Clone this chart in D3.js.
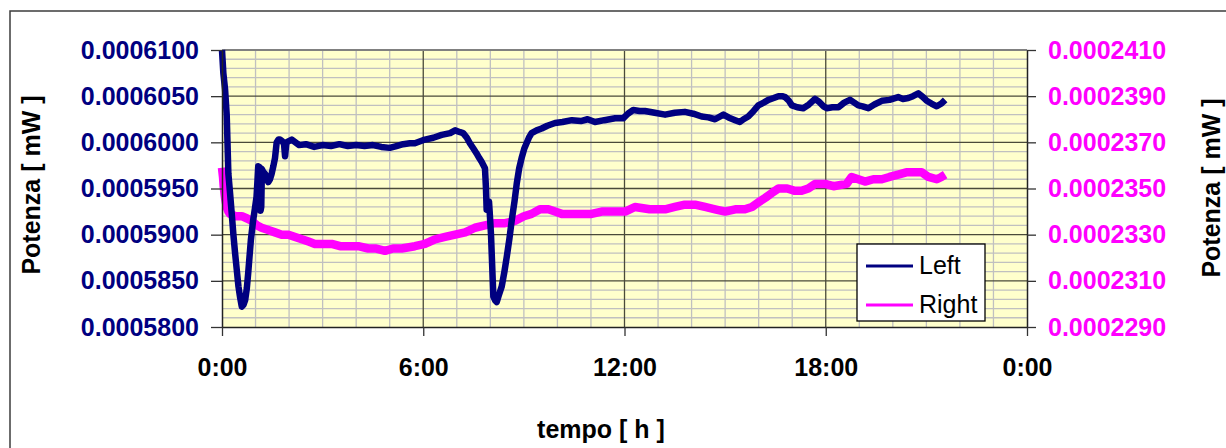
<!DOCTYPE html>
<html>
<head>
<meta charset="utf-8">
<script src="https://cdn.jsdelivr.net/npm/d3@7/dist/d3.min.js"></script>
<style>
  html, body { margin: 0; padding: 0; background: #ffffff; }
  svg { display: block; font-family: "Liberation Sans", Arial, sans-serif; }
</style>
</head>
<body>
<svg id="chart" width="1226" height="448"></svg>
<script>
// Elapsed time in hours and power readings (mW) for the two channels.
const leftTime = [
  0.00, 0.04, 0.09, 0.14, 0.19, 0.24, 0.29, 0.34, 0.39, 0.44, 0.49, 0.54, 0.59, 0.64, 0.69, 0.74,
  0.78, 0.82, 0.86, 0.93, 0.98, 1.03, 1.06, 1.08, 1.13, 1.15, 1.17, 1.19, 1.23, 1.28, 1.33, 1.38,
  1.43, 1.48, 1.53, 1.58, 1.63, 1.68, 1.73, 1.80, 1.85, 1.88, 1.92, 2.08, 2.30, 2.50, 2.75, 3.00,
  3.25, 3.50, 3.75, 4.00, 4.25, 4.50, 4.75, 5.00, 5.20, 5.40, 5.60, 5.75, 6.05, 6.30, 6.55, 6.80,
  6.95, 7.10, 7.19, 7.30, 7.39, 7.50, 7.59, 7.67, 7.74, 7.84, 7.87, 7.89, 7.93, 7.96, 7.98, 8.02,
  8.09, 8.14, 8.19, 8.25, 8.34, 8.42, 8.49, 8.57, 8.64, 8.72, 8.79, 8.86, 8.94, 9.01, 9.08, 9.15,
  9.23, 9.38, 9.53, 9.70, 9.93, 10.15, 10.43, 10.70, 10.90, 11.12, 11.40, 11.72, 11.96, 12.10,
  12.26, 12.45, 12.61, 12.90, 13.21, 13.50, 13.80, 14.05, 14.30, 14.50, 14.70, 14.95, 15.10,
  15.30, 15.44, 15.55, 15.69, 15.85, 15.99, 16.15, 16.29, 16.45, 16.59, 16.70, 16.79, 16.90,
  16.99, 17.15, 17.33, 17.50, 17.68, 17.80, 17.93, 18.03, 18.20, 18.38, 18.55, 18.72, 18.85,
  18.97, 19.10, 19.27, 19.45, 19.67, 19.90, 20.16, 20.30, 20.46, 20.60, 20.76, 20.90, 21.01,
  21.15, 21.31, 21.45, 21.56
];
const leftPower = [
  0.0006100, 0.0006075, 0.0006058, 0.0006030, 0.0005966, 0.0005945, 0.0005923, 0.0005900, 0.0005880, 0.0005862, 0.0005844, 0.0005832, 0.0005822, 0.0005824, 0.0005829, 0.0005842,
  0.0005858, 0.0005876, 0.0005894, 0.0005916, 0.0005928, 0.0005941, 0.0005960, 0.0005974, 0.0005973, 0.0005926, 0.0005930, 0.0005971, 0.0005968, 0.0005966, 0.0005961, 0.0005957,
  0.0005960, 0.0005966, 0.0005974, 0.0005983, 0.0006000, 0.0006003, 0.0006003, 0.0006001, 0.0005998, 0.0005985, 0.0006000, 0.0006003, 0.0005997, 0.0005998, 0.0005995, 0.0005997,
  0.0005996, 0.0005998, 0.0005996, 0.0005997, 0.0005996, 0.0005997, 0.0005995, 0.0005994, 0.0005996, 0.0005998, 0.0005999, 0.0005999, 0.0006003, 0.0006005, 0.0006008, 0.0006010,
  0.0006013, 0.0006011, 0.0006010, 0.0006005, 0.0005999, 0.0005993, 0.0005988, 0.0005983, 0.0005979, 0.0005972, 0.0005950, 0.0005927, 0.0005928, 0.0005936, 0.0005925, 0.0005900,
  0.0005833, 0.0005829, 0.0005827, 0.0005834, 0.0005844, 0.0005860, 0.0005876, 0.0005896, 0.0005916, 0.0005936, 0.0005956, 0.0005972, 0.0005984, 0.0005993, 0.0005999, 0.0006005,
  0.0006010, 0.0006013, 0.0006015, 0.0006018, 0.0006021, 0.0006022, 0.0006024, 0.0006023, 0.0006025, 0.0006022, 0.0006024, 0.0006026, 0.0006026, 0.0006031,
  0.0006035, 0.0006034, 0.0006034, 0.0006032, 0.0006030, 0.0006032, 0.0006033, 0.0006031, 0.0006028, 0.0006027, 0.0006025, 0.0006030, 0.0006027,
  0.0006024, 0.0006022, 0.0006025, 0.0006028, 0.0006034, 0.0006040, 0.0006043, 0.0006046, 0.0006048, 0.0006050, 0.0006050, 0.0006049, 0.0006045,
  0.0006040, 0.0006038, 0.0006037, 0.0006041, 0.0006047, 0.0006044, 0.0006039, 0.0006037, 0.0006038, 0.0006038, 0.0006043, 0.0006046, 0.0006043,
  0.0006040, 0.0006039, 0.0006037, 0.0006041, 0.0006045, 0.0006046, 0.0006049, 0.0006047, 0.0006048, 0.0006050, 0.0006053, 0.0006049, 0.0006045,
  0.0006042, 0.0006039, 0.0006042, 0.0006046
];

const rightTime = [
  0.00, 0.03, 0.05, 0.09, 0.14, 0.19, 0.24, 0.40, 0.59, 0.75, 0.88, 1.05, 1.18, 1.38, 1.58, 1.78,
  1.98, 2.18, 2.38, 2.58, 2.77, 3.02, 3.27, 3.52, 3.77, 4.06, 4.36, 4.60, 4.86, 5.10, 5.36, 5.75,
  6.05, 6.35, 6.65, 6.95, 7.25, 7.54, 7.84, 8.14, 8.44, 8.74, 9.00, 9.23, 9.48, 9.73, 9.93, 10.13,
  10.43, 10.72, 11.02, 11.32, 11.72, 12.02, 12.31, 12.75, 13.21, 13.50, 13.80, 14.10, 14.40, 14.70,
  15.00, 15.30, 15.59, 15.80, 15.99, 16.20, 16.39, 16.59, 16.85, 17.08, 17.28, 17.48, 17.68, 17.98,
  18.23, 18.62, 18.77, 18.97, 19.17, 19.42, 19.67, 19.90, 20.16, 20.40, 20.66, 20.86, 21.06, 21.31,
  21.45, 21.56
];
const rightPower = [
  0.0002359, 0.0002355, 0.0002351, 0.0002346, 0.0002342, 0.0002340, 0.0002339, 0.0002338, 0.0002338, 0.0002337, 0.0002336, 0.0002334, 0.0002333, 0.0002332, 0.0002331, 0.0002330,
  0.0002330, 0.0002329, 0.0002328, 0.0002327, 0.0002326, 0.0002326, 0.0002326, 0.0002325, 0.0002325, 0.0002325, 0.0002324, 0.0002324, 0.0002323, 0.0002324, 0.0002324, 0.0002325,
  0.0002326, 0.0002328, 0.0002329, 0.0002330, 0.0002331, 0.0002333, 0.0002334, 0.0002335, 0.0002335, 0.0002336, 0.0002338, 0.0002339, 0.0002341, 0.0002341, 0.0002340, 0.0002339,
  0.0002339, 0.0002339, 0.0002339, 0.0002340, 0.0002340, 0.0002340, 0.0002342, 0.0002341, 0.0002341, 0.0002342, 0.0002343, 0.0002343, 0.0002342, 0.0002341,
  0.0002340, 0.0002341, 0.0002341, 0.0002342, 0.0002344, 0.0002346, 0.0002348, 0.0002350, 0.0002350, 0.0002349, 0.0002349, 0.0002350, 0.0002352, 0.0002352,
  0.0002351, 0.0002352, 0.0002355, 0.0002354, 0.0002353, 0.0002354, 0.0002354, 0.0002355, 0.0002356, 0.0002357, 0.0002357, 0.0002357, 0.0002355, 0.0002354,
  0.0002355, 0.0002356
];

// Axis ticks and labels
const timeTicks = [0, 6, 12, 18, 24];
const timeTickLabels = ["0:00", "6:00", "12:00", "18:00", "0:00"];
const leftTicks = [0.00058, 0.000585, 0.00059, 0.000595, 0.0006, 0.000605, 0.00061];
const rightTicks = [0.000229, 0.000231, 0.000233, 0.000235, 0.000237, 0.000239, 0.000241];
const seriesNames = ["Left", "Right"];
const seriesColors = ["#000080", "#ff00ff"];

const svg = d3.select("#chart");
const plot = { left: 222, right: 1027, top: 50, bottom: 327 };

const x = d3.scaleLinear().domain([0, 24]).range([plot.left, plot.right]);
const yL = d3.scaleLinear().domain([0.00058, 0.00061]).range([plot.bottom, plot.top]);
const yR = d3.scaleLinear().domain([0.000229, 0.000241]).range([plot.bottom, plot.top]);

// Outer chart frame
svg.append("rect")
  .attr("x", 10).attr("y", 11).attr("width", 1240).attr("height", 460)
  .attr("fill", "none").attr("stroke", "#3c3c3c").attr("stroke-width", 1.5);

// Plot background
svg.append("rect")
  .attr("x", plot.left).attr("y", plot.top)
  .attr("width", plot.right - plot.left).attr("height", plot.bottom - plot.top)
  .attr("fill", "#ffffcc");

// Minor gridlines: every hour, every 0.000001 mW on the left scale
const minorX = d3.range(1, 24).filter(h => h % 6 !== 0);
const minorY = d3.range(1, 30).filter(i => i % 5 !== 0).map(i => 0.00058 + i * 0.000001);
const grid = svg.append("g");
grid.selectAll(".mx").data(minorX).join("line")
  .attr("x1", d => x(d)).attr("x2", d => x(d))
  .attr("y1", plot.top).attr("y2", plot.bottom)
  .attr("stroke", "#c0c0c0").attr("stroke-width", 1.3);
grid.selectAll(".my").data(minorY).join("line")
  .attr("x1", plot.left).attr("x2", plot.right)
  .attr("y1", d => yL(d)).attr("y2", d => yL(d))
  .attr("stroke", "#c0c0c0").attr("stroke-width", 1.3);

// Major gridlines
grid.selectAll(".Mx").data(timeTicks.slice(1, -1)).join("line")
  .attr("x1", d => x(d)).attr("x2", d => x(d))
  .attr("y1", plot.top).attr("y2", plot.bottom)
  .attr("stroke", "#4a4a3a").attr("stroke-width", 1.3);
grid.selectAll(".My").data(leftTicks.slice(1, -1)).join("line")
  .attr("x1", plot.left).attr("x2", plot.right)
  .attr("y1", d => yL(d)).attr("y2", d => yL(d))
  .attr("stroke", "#4a4a3a").attr("stroke-width", 1.3);

// Top border of the plot area
svg.append("line")
  .attr("x1", plot.left).attr("x2", plot.right)
  .attr("y1", plot.top).attr("y2", plot.top)
  .attr("stroke", "#808080").attr("stroke-width", 2);

// Data lines
const leftData = leftTime.map((t, i) => [t, leftPower[i]]);
const rightData = rightTime.map((t, i) => [t, rightPower[i]]);

svg.append("path")
  .datum(rightData)
  .attr("fill", "none")
  .attr("stroke", seriesColors[1])
  .attr("stroke-width", 8.5)
  .attr("stroke-linejoin", "round")
  .attr("d", d3.line().x(d => x(d[0])).y(d => yR(d[1])));

svg.append("path")
  .datum(leftData)
  .attr("fill", "none")
  .attr("stroke", seriesColors[0])
  .attr("stroke-width", 6.5)
  .attr("stroke-linejoin", "round")
  .attr("d", d3.line().x(d => x(d[0])).y(d => yL(d[1])));

// Axes
const fmt = d3.format(".7f");
const axisFont = g => g.selectAll("text")
  .attr("font-family", "'Liberation Sans', Arial, sans-serif")
  .attr("font-size", 25).attr("font-weight", "bold");

const gL = svg.append("g").attr("transform", `translate(${plot.left},0)`)
  .call(d3.axisLeft(yL).tickValues(leftTicks).tickFormat(fmt).tickSize(11).tickSizeOuter(0).tickPadding(12));
gL.call(axisFont);
gL.selectAll("text").attr("fill", seriesColors[0]);

const gR = svg.append("g").attr("transform", `translate(${plot.right},0)`)
  .call(d3.axisRight(yR).tickValues(rightTicks).tickFormat(fmt).tickSize(9).tickSizeOuter(0).tickPadding(12));
gR.call(axisFont);
gR.selectAll("text").attr("fill", seriesColors[1]);

const gB = svg.append("g").attr("transform", `translate(0,${plot.bottom})`)
  .call(d3.axisBottom(x).tickValues(timeTicks).tickFormat((d, i) => timeTickLabels[i]).tickSize(9).tickSizeOuter(0).tickPadding(22));
gB.call(axisFont);
gB.selectAll("text").attr("fill", "#000");

[gL, gR, gB].forEach(g => {
  g.select(".domain").attr("stroke", "#222").attr("stroke-width", 1.5);
  g.selectAll(".tick line").attr("stroke", "#333").attr("stroke-width", 1.3);
});

// Axis titles
svg.append("text")
  .attr("transform", "translate(40,185) rotate(-90)")
  .attr("text-anchor", "middle")
  .attr("font-size", 25).attr("font-weight", "bold").attr("fill", "#000")
  .text("Potenza [ mW ]");

svg.append("text")
  .attr("transform", "translate(1220,188) rotate(-90)")
  .attr("text-anchor", "middle")
  .attr("font-size", 25).attr("font-weight", "bold").attr("fill", "#000")
  .text("Potenza [ mW ]");

svg.append("text")
  .attr("x", 601).attr("y", 438)
  .attr("text-anchor", "middle")
  .attr("font-size", 25).attr("font-weight", "bold").attr("fill", "#000")
  .text("tempo [ h ]");

// Legend
const legend = svg.append("g");
legend.append("rect")
  .attr("x", 857).attr("y", 244).attr("width", 128).attr("height", 77)
  .attr("fill", "#fff").attr("stroke", "#000").attr("stroke-width", 1.3);
seriesNames.forEach((name, i) => {
  const ly = 266 + i * 39;
  legend.append("line")
    .attr("x1", 866).attr("x2", 913).attr("y1", ly).attr("y2", ly)
    .attr("stroke", seriesColors[i]).attr("stroke-width", 3);
  legend.append("text")
    .attr("x", 919).attr("y", ly + 8)
    .attr("font-size", 25).attr("fill", "#000")
    .text(name);
});
</script>
</body>
</html>
